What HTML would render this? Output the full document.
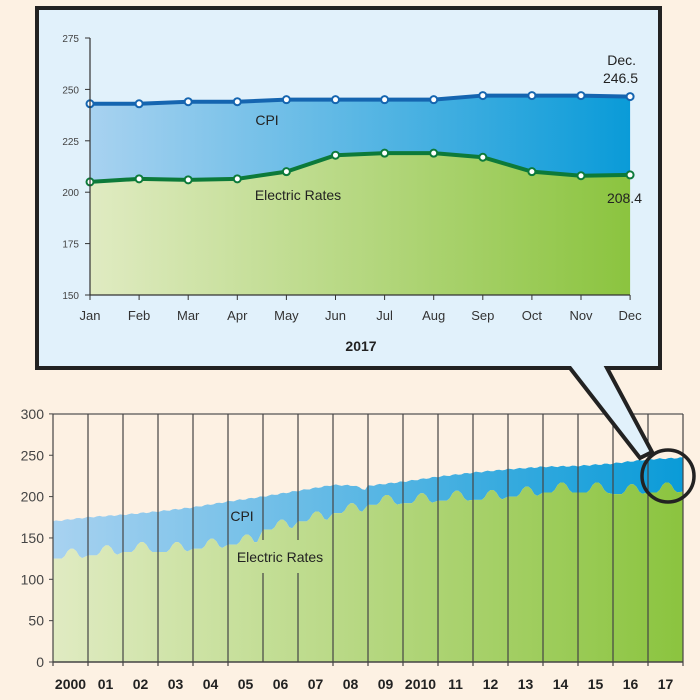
<!DOCTYPE html><html><head><style>body{margin:0;background:#fdf1e3}svg{display:block;font-family:"Liberation Sans",sans-serif}</style></head><body>
<svg id="s" width="700" height="700" xmlns="http://www.w3.org/2000/svg">
<defs>
<linearGradient id="gb" x1="0" x2="1"><stop offset="0" stop-color="#a8d2f0"/><stop offset="1" stop-color="#0a9bd8"/></linearGradient>
<linearGradient id="gg" x1="0" x2="1"><stop offset="0" stop-color="#e0ebc2"/><stop offset="1" stop-color="#8bc43f"/></linearGradient>
</defs>
<g id="bot"></g>
<polygon points="37,8 660,8 660,368 607,368 652,452 640,458 570,368 37,368" fill="#e1f1fb" stroke="#222" stroke-width="4" stroke-linejoin="miter"/>
<g id="tp"></g>
<circle cx="668" cy="476" r="26" fill="none" stroke="#222" stroke-width="3.5"/>
</svg>
<script>
(function(){
const NS="http://www.w3.org/2000/svg";
function el(p,t,a,txt){const e=document.createElementNS(NS,t);for(const k in a)e.setAttribute(k,a[k]);if(txt!==undefined)e.textContent=txt;p.appendChild(e);return e;}
const tp=document.getElementById('tp');
const X=i=>90+i*49.1, Y=v=>295-(v-150)*2.056;
const cpi=[243,243,244,244,245,245,245,245,247,247,247,246.5];
const el2=[205,206.5,206,206.5,210,218,219,219,217,210,208,208.4];
let pc=cpi.map((v,i)=>X(i)+','+Y(v)).join(' '), pe=el2.map((v,i)=>X(i)+','+Y(v)).join(' ');
el(tp,'polygon',{points:pc+' '+el2.map((v,i)=>X(i)+','+Y(v)).reverse().join(' '),fill:'url(#gb)'});
el(tp,'polygon',{points:pe+` ${X(11)},295 90,295`,fill:'url(#gg)'});
el(tp,'polyline',{points:pc,fill:'none',stroke:'#1565b0','stroke-width':4});
el(tp,'polyline',{points:pe,fill:'none',stroke:'#0c7a3a','stroke-width':4});
cpi.forEach((v,i)=>el(tp,'circle',{cx:X(i),cy:Y(v),r:3.5,fill:'#fff',stroke:'#1565b0','stroke-width':2}));
el2.forEach((v,i)=>el(tp,'circle',{cx:X(i),cy:Y(v),r:3.5,fill:'#fff',stroke:'#0c7a3a','stroke-width':2}));
el(tp,'line',{x1:90,y1:38,x2:90,y2:295,stroke:'#333','stroke-width':1.2});
el(tp,'line',{x1:90,y1:295,x2:630,y2:295,stroke:'#333','stroke-width':1.2});
[150,175,200,225,250,275].forEach(v=>{el(tp,'line',{x1:85,x2:90,y1:Y(v),y2:Y(v),stroke:'#333'});el(tp,'text',{x:79,y:Y(v)+4,'text-anchor':'end','font-size':10,fill:'#444'},v)});
['Jan','Feb','Mar','Apr','May','Jun','Jul','Aug','Sep','Oct','Nov','Dec'].forEach((m,i)=>{el(tp,'line',{x1:X(i),x2:X(i),y1:295,y2:300,stroke:'#333'});el(tp,'text',{x:X(i),y:320,'text-anchor':'middle','font-size':13,fill:'#333'},m)});
el(tp,'text',{x:361,y:351,'text-anchor':'middle','font-size':14,'font-weight':'bold',fill:'#222'},'2017');
el(tp,'text',{x:267,y:125,'text-anchor':'middle','font-size':14,fill:'#222'},'CPI');
el(tp,'text',{x:298,y:200,'text-anchor':'middle','font-size':14,fill:'#222'},'Electric Rates');
el(tp,'text',{x:636,y:65,'text-anchor':'end','font-size':14,fill:'#222'},'Dec.');
el(tp,'text',{x:638,y:83,'text-anchor':'end','font-size':14,fill:'#222'},'246.5');
el(tp,'text',{x:642,y:203,'text-anchor':'end','font-size':14,fill:'#222'},'208.4');
const b=document.getElementById('bot');
const bx=t=>53+t*35, by=v=>662-v*0.827;
const C=[170,175,178,182,187,194,200,207,214,213,218,224,229,233,236,237,240,245,247];
const E=[125,129,133,133,137,142,160,170,180,190,192,195,196,200,205,205,203,205,206];
let cp=[],ep=[];
for(let m=0;m<=216;m++){const t=m/12,y=Math.min(17,Math.floor(t)),f=t-y;
 let c=C[y]+(C[y+1]-C[y])*f; if(y==8&&f>0.6)c-=6*(f-0.6)/0.4; c+=Math.sin(m*1.7)*0.8;
 let e=E[y]+(E[y+1]-E[y])*Math.max(0,(f-0.8)/0.2);
 let mo=m%12; if(mo>=4&&mo<=10)e+=[3,9,12,12,9,3,0][mo-4];
 cp.push(bx(t)+','+by(c)); ep.push(bx(t)+','+by(Math.min(e,c-2)));}
el(b,'polygon',{points:cp.join(' ')+' '+ep.slice().reverse().join(' '),fill:'url(#gb)'});
el(b,'polygon',{points:ep.join(' ')+` ${bx(18)},662 53,662`,fill:'url(#gg)'});
el(b,'line',{x1:53,y1:414,x2:683,y2:414,stroke:'#555','stroke-width':1.2});
for(let i=0;i<=18;i++){if(i==6||i==7){el(b,'line',{x1:bx(i),x2:bx(i),y1:414,y2:540,stroke:'#444','stroke-width':1.2});el(b,'line',{x1:bx(i),x2:bx(i),y1:573,y2:662,stroke:'#444','stroke-width':1.2});}else el(b,'line',{x1:bx(i),x2:bx(i),y1:414,y2:666,stroke:'#444','stroke-width':1.2});}
el(b,'line',{x1:53,y1:662,x2:683,y2:662,stroke:'#444','stroke-width':1.5});
[0,50,100,150,200,250,300].forEach(v=>{el(b,'line',{x1:49,x2:53,y1:by(v),y2:by(v),stroke:'#444'});el(b,'text',{x:44,y:by(v)+5,'text-anchor':'end','font-size':14,fill:'#444'},v)});
['2000','01','02','03','04','05','06','07','08','09','2010','11','12','13','14','15','16','17'].forEach((l,i)=>el(b,'text',{x:bx(i)+17.5,y:689,'text-anchor':'middle','font-size':14,'font-weight':'bold',fill:'#222'},l));
el(b,'text',{x:242,y:521,'text-anchor':'middle','font-size':14,fill:'#222'},'CPI');
el(b,'text',{x:280,y:562,'text-anchor':'middle','font-size':14,fill:'#222'},'Electric Rates');
})();
</script></body></html>
